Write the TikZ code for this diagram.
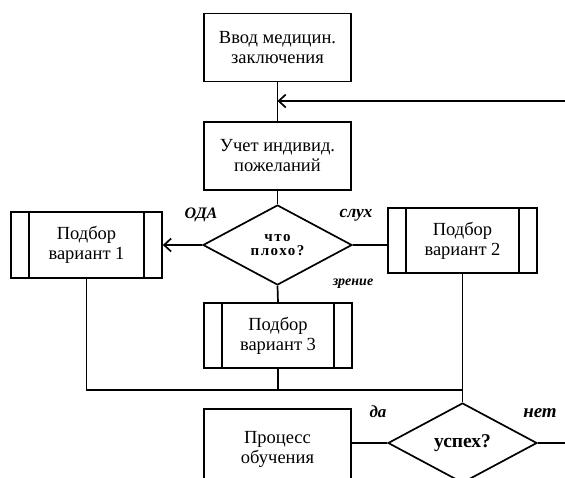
\documentclass[tikz,border=0pt]{standalone}
\usepackage{fontspec}
\setmainfont{Liberation Serif}
\newfontfamily\widefont[LetterSpace=10]{Liberation Serif}
\usetikzlibrary{shapes.geometric,arrows.meta}
\begin{document}
\begin{tikzpicture}[x=1pt,y=-1pt,
  line width=1.7pt,
  box/.style={draw,rectangle,minimum width=147pt,minimum height=68pt,inner sep=0pt,align=center,font=\fontsize{18.5}{20}\selectfont},
  sub/.style={draw,rectangle,minimum width=150pt,minimum height=66pt,inner sep=0pt,align=center,font=\fontsize{18.5}{20}\selectfont},
  dec/.style={draw,diamond,aspect=1.86,minimum width=149pt,minimum height=80pt,inner sep=0pt,align=center},
  lbl/.style={font=\fontsize{16}{16}\selectfont\bfseries\itshape},
  arr/.style={-{Straight Barb[length=7pt,width=13pt,line width=1.7pt]}}
]
\useasboundingbox (0,0) rectangle (565,477);
\clip (0,0) rectangle (565,477);
\fill[white] (0,0) rectangle (565,477);
\node[box] (b1) at (277.5,47.5) {Ввод медицин.\\заключения};
\node[box] (b2) at (277.5,156) {Учет индивид.\\пожеланий};
\node[dec,font=\widefont\fontsize{15}{14}\selectfont\bfseries] (d1) at (277.5,245) {что\\плохо?};
\node[sub,minimum width=151pt] (v1) at (86.5,245) {Подбор\\вариант 1};
\node[sub,minimum width=149pt,minimum height=65pt] (v2) at (462.5,240.5) {Подбор\\вариант 2};
\node[sub,minimum width=148pt,minimum height=65pt] (v3) at (278,335.5) {Подбор\\вариант 3};
\node[box,minimum height=80pt] (p) at (277.5,449) {Процесс\\обучения};
\node[dec,font=\fontsize{19.5}{20}\selectfont\bfseries] (d2) at (462.5,443) {успех?};
\foreach \n/\d in {v1/19,v2/19,v3/19}{
  \draw ([xshift=\d pt]\n.north west) -- ([xshift=\d pt]\n.south west);
  \draw ([xshift=-\d pt]\n.north east) -- ([xshift=-\d pt]\n.south east);
}
\coordinate (j1) at (277.5,101);
\coordinate (e1) at (566,101);
\coordinate (j2) at (462.5,390);
\coordinate (e2) at (566,443);
\draw (b1.south) -- (b2.north);
\draw[arr] (e1) -- (j1);
\draw (b2.south) -- (d1.north);
\draw[arr] (d1.west) -- (v1.east);
\draw (d1.east) -- (d1.east -| v2.west);
\draw (d1.south) -- (v3.north);
\draw (v1.south) |- (j2);
\draw (v3.south) -- (v3.south |- j2);
\draw (v2.south) -- (d2.north);
\draw (p.east |- d2.west) -- (d2.west);
\draw (d2.east) -- (e2);
\node[lbl,anchor=base] (l1) at (201,218) {ОДА};
\node[lbl,anchor=base,font=\fontsize{17.5}{17}\selectfont\bfseries\itshape] (l2) at (356,217) {слух};
\node[lbl,anchor=base,font=\fontsize{14}{14}\selectfont\bfseries\itshape] (l3) at (353,285) {зрение};
\node[lbl,anchor=base,font=\fontsize{17}{17}\selectfont\bfseries\itshape] (l4) at (378,417) {да};
\node[lbl,anchor=base,font=\fontsize{19}{19}\selectfont\bfseries\itshape] (l5) at (540,417) {нет};
\end{tikzpicture}
\end{document}
